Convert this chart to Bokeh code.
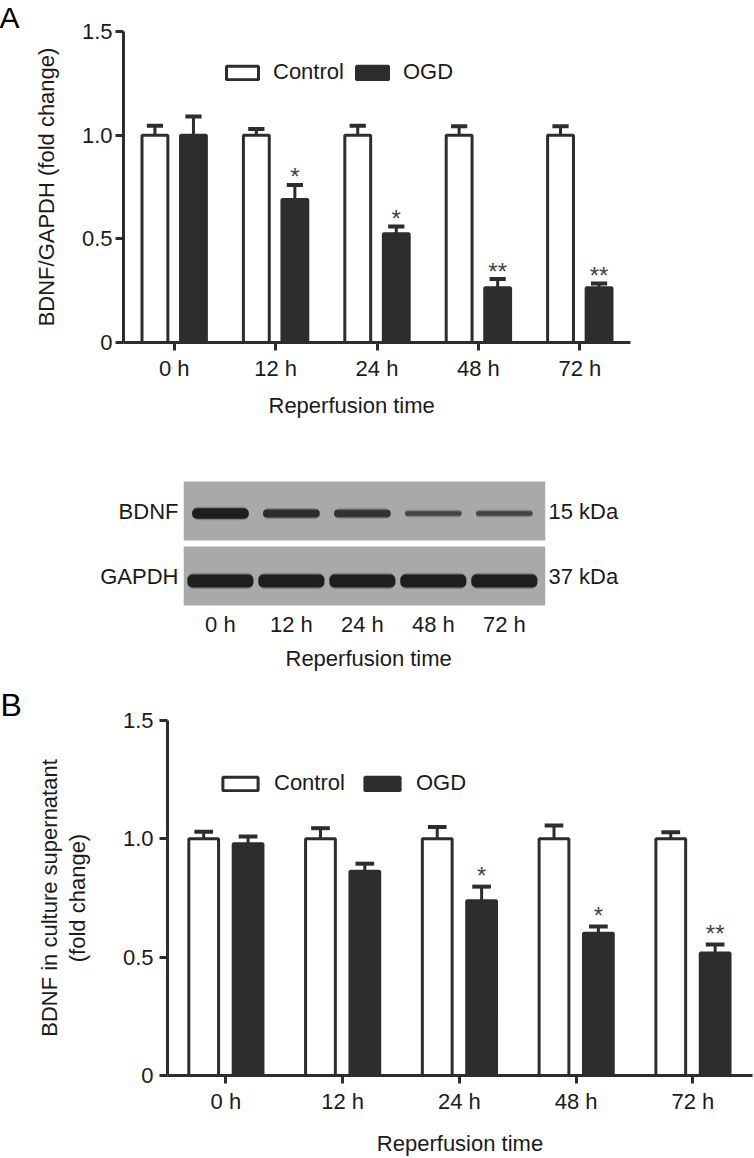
import numpy as np
from bokeh.plotting import figure
from bokeh.models import (ColumnDataSource, Range1d, FixedTicker, Legend, LegendItem,
                          Title, LinearAxis, NumeralTickFormatter)
from bokeh.transform import dodge
from bokeh.embed import file_html
from bokeh.resources import INLINE
from bokeh.core.properties import value

# ---------------- data ----------------
times = ["0 h", "12 h", "24 h", "48 h", "72 h"]

# Panel A: BDNF/GAPDH (fold change)
a_control = [1.0, 1.0, 1.0, 1.0, 1.0]
a_control_err = [0.045, 0.03, 0.045, 0.043, 0.043]
a_ogd = [1.0, 0.69, 0.525, 0.264, 0.264]
a_ogd_err = [0.09, 0.07, 0.035, 0.042, 0.02]
a_sig = ["", "*", "*", "**", "**"]

# Western blot (relative band density)
blot_rows = ["GAPDH", "BDNF"]
blot_kda = ["37 kDa", "15 kDa"]
bdnf_density = [1.0, 0.72, 0.62, 0.28, 0.32]
gapdh_density = [1.0, 1.0, 1.0, 1.0, 1.0]

# Panel B: BDNF in culture supernatant (fold change)
b_control = [1.0, 1.0, 1.0, 1.0, 1.0]
b_control_err = [0.03, 0.045, 0.05, 0.056, 0.028]
b_ogd = [0.979, 0.863, 0.738, 0.601, 0.518]
b_ogd_err = [0.031, 0.032, 0.06, 0.029, 0.036]
b_sig = ["", "", "*", "*", "**"]

# ---------------- style ----------------
FONT = "Liberation Sans"
INK = "#2d2d2d"
TXT = "#1b1b1b"
W = 754
OFF = 0.19      # dodge of each bar from category centre
BW = 0.255      # bar width
CAP = 0.08      # half width of error cap


def style_axis(ax):
    ax.axis_line_width = 3
    ax.axis_line_color = INK
    ax.major_tick_line_width = 3
    ax.major_tick_line_color = INK
    ax.major_tick_out = 8
    ax.major_tick_in = 0
    ax.minor_tick_line_color = None
    ax.major_label_text_font = FONT
    ax.major_label_text_font_size = "22px"
    ax.major_label_text_color = TXT
    ax.axis_label_text_font = FONT
    ax.axis_label_text_font_size = "22px"
    ax.axis_label_text_font_style = "normal"
    ax.axis_label_text_color = TXT


def side_title(text, offset, standoff, size="22px"):
    return Title(text=text, align="left", offset=offset, standoff=standoff,
                 text_font=FONT, text_font_size=size, text_font_style="normal",
                 text_color=TXT)


def panel_letter(p, letter, offset, size, standoff):
    p.title.text = letter
    p.title.align = "left"
    p.title.offset = offset
    p.title.standoff = standoff
    p.title.text_font = FONT
    p.title.text_font_size = size
    p.title.text_font_style = "normal"
    p.title.text_color = "#000000"


def bar_panel(control, cerr, ogd, oerr, sig, height, bl, br, bt, bb, x_end,
              legend_loc, glyph_w, standoff, spacing, star_dy):
    p = figure(width=W, height=height, x_range=Range1d(-0.5, x_end),
               y_range=Range1d(0, 1.5), output_backend="svg", toolbar_location=None,
               min_border_left=bl, min_border_right=br, min_border_top=bt,
               min_border_bottom=bb)
    p.outline_line_color = None
    p.grid.visible = False
    src = ColumnDataSource(dict(
        x=list(range(len(times))),
        control=control, ctop=[c + e for c, e in zip(control, cerr)],
        ogd=ogd, otop=[o + e for o, e in zip(ogd, oerr)],
        sig=sig))
    for s, top, end in ((-OFF, "control", "ctop"), (OFF, "ogd", "otop")):
        p.segment(x0=dodge("x", s), y0=top, x1=dodge("x", s), y1=end,
                  line_color=INK, line_width=3, source=src)
        p.segment(x0=dodge("x", s - CAP), y0=end, x1=dodge("x", s + CAP), y1=end,
                  line_color=INK, line_width=4, source=src)
    r_c = p.vbar(x=dodge("x", -OFF), top="control", bottom=0, width=BW,
                 fill_color="white", line_color=INK, line_width=3, source=src)
    r_o = p.vbar(x=dodge("x", OFF), top="ogd", bottom=0, width=BW,
                 fill_color=INK, line_color=INK, line_width=3, source=src)
    p.text(x=dodge("x", OFF), y="otop", text="sig", source=src,
           text_align="center", text_baseline="alphabetic", y_offset=star_dy,
           text_font=value(FONT), text_font_size="24px", text_color="#444444")
    leg = Legend(items=[LegendItem(label="Control", renderers=[r_c]),
                        LegendItem(label="OGD", renderers=[r_o])],
                 location=legend_loc, orientation="horizontal",
                 glyph_width=glyph_w, glyph_height=17, label_standoff=standoff,
                 spacing=spacing, padding=0, margin=0, border_line_color=None,
                 background_fill_alpha=0, label_text_font=FONT,
                 label_text_font_size="22px", label_text_color=TXT)
    p.add_layout(leg)
    style_axis(p.xaxis[0])
    style_axis(p.yaxis[0])
    p.xaxis.ticker = FixedTicker(ticks=list(range(len(times))))
    p.xaxis.major_label_overrides = {i: t for i, t in enumerate(times)}
    p.yaxis.ticker = FixedTicker(ticks=[0, 0.5, 1.0, 1.5])
    p.yaxis.formatter = NumeralTickFormatter(format="0.0")
    p.yaxis.major_label_overrides = {0: "0"}
    return p


# ---------------- Panel A ----------------
pA = bar_panel(a_control, a_control_err, a_ogd, a_ogd_err, a_sig,
               height=430, bl=123, br=124, bt=31, bb=88, x_end=4.5,
               legend_loc=(99, 257), glyph_w=40, standoff=11, spacing=8, star_dy=-8)
pA.yaxis.axis_label = "BDNF/GAPDH (fold change)"
pA.yaxis.major_label_standoff = 3
pA.yaxis.axis_label_standoff = 20
panel_letter(pA, "A", -124, "30px", -4)
pA.add_layout(side_title("Reperfusion time", 145, 14), "below")

# ---------------- Western blot ----------------
ROW_PX = 65.0
x0b, x1b = -0.52, 4.58
pW = figure(width=W, height=255, x_range=Range1d(x0b, x1b), y_range=Range1d(-0.5, 1.5),
            output_backend="svg", toolbar_location=None,
            min_border_left=183, min_border_right=209, min_border_top=48,
            min_border_bottom=77)
pW.outline_line_color = None
pW.grid.visible = False
pW.hbar(y=list(range(len(blot_rows))), height=59 / ROW_PX, left=x0b, right=x1b,
        fill_color="#a9a9a9", line_color=None)

lanes = np.arange(len(times))
dB = np.array(bdnf_density)
dG = np.array(gapdh_density)
rB = blot_rows.index("BDNF")
rG = blot_rows.index("GAPDH")
bdnf_src = ColumnDataSource(dict(
    y=[rB - 2.5 / ROW_PX] * len(lanes),
    h=((2 + 8.5 * dB) / ROW_PX).tolist(),
    halo=((5 + 8.5 * dB) / ROW_PX).tolist(),
    left=(lanes - 0.40).tolist(), right=(lanes + 0.40).tolist(),
    a=(0.45 + 0.55 * dB).tolist()))
gapdh_src = ColumnDataSource(dict(
    y=[rG - 5 / ROW_PX] * len(lanes),
    h=((4 + 9 * dG) / ROW_PX).tolist(),
    halo=((7 + 9 * dG) / ROW_PX).tolist(),
    left=(lanes - 0.465).tolist(), right=(lanes + 0.465).tolist(),
    a=(0.45 + 0.55 * dG).tolist()))
for s in (bdnf_src, gapdh_src):
    pW.hbar(y="y", height="halo", left="left", right="right", source=s,
            fill_color="#3a3a3a", fill_alpha=0.35, line_color=None, border_radius=6)
    pW.hbar(y="y", height="h", left="left", right="right", source=s,
            fill_color="#1e1e1e", fill_alpha="a", line_color=None, border_radius=5)

for ax in (pW.xaxis[0], pW.yaxis[0]):
    style_axis(ax)
    ax.axis_line_color = None
    ax.major_tick_line_color = None
    ax.major_tick_out = 0
pW.xaxis.ticker = FixedTicker(ticks=list(range(len(times))))
pW.xaxis.major_label_overrides = {i: t for i, t in enumerate(times)}
pW.xaxis.major_label_standoff = 3
pW.yaxis.ticker = FixedTicker(ticks=list(range(len(blot_rows))))
pW.yaxis.major_label_overrides = {i: t for i, t in enumerate(blot_rows)}
pW.yaxis.major_label_standoff = 5
rax = LinearAxis(ticker=FixedTicker(ticks=list(range(len(blot_kda)))),
                 major_label_overrides={i: t for i, t in enumerate(blot_kda)})
style_axis(rax)
rax.axis_line_color = None
rax.major_tick_line_color = None
rax.major_tick_out = 0
rax.major_label_standoff = 3
pW.add_layout(rax, "right")
pW.add_layout(side_title("Reperfusion time", 102, 8), "below")

# ---------------- Panel B ----------------
pB = bar_panel(b_control, b_control_err, b_ogd, b_ogd_err, b_sig,
               height=473, bl=167, br=2, bt=35, bb=80, x_end=4.51,
               legend_loc=(51, 279), glyph_w=44, standoff=12, spacing=15, star_dy=-11)
pB.yaxis.axis_label = "BDNF in culture supernatant\n(fold change)"
pB.yaxis.axis_label_text_line_height = 1.1
pB.yaxis.major_label_standoff = 6
pB.yaxis.axis_label_standoff = 30
pB.xaxis.axis_label = "Reperfusion time"
pB.xaxis.axis_label_standoff = 14
panel_letter(pB, "B", -167, "32px", -5)

open("out.html", "w").write(file_html([pA, pW, pB], INLINE))
